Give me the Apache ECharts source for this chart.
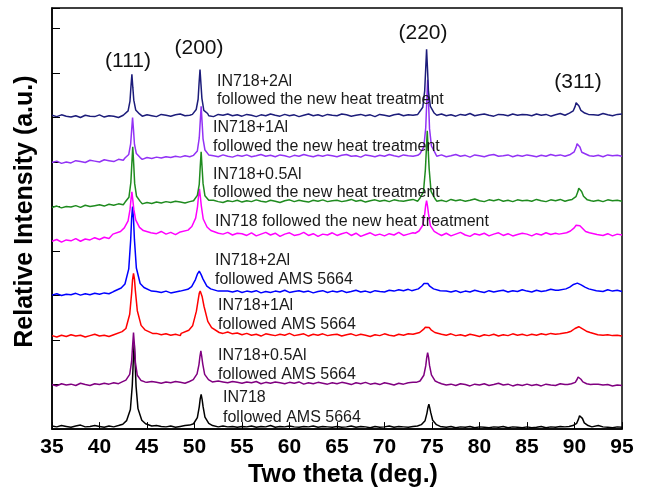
<!DOCTYPE html>
<html>
<head>
<meta charset="utf-8">
<script src="https://cdn.jsdelivr.net/npm/echarts@6/dist/echarts.min.js"></script>
<style>
  html, body { margin: 0; padding: 0; background: #fff; }
  #chart { width: 650px; height: 493px; }
</style>
</head>
<body>
<div id="chart"></div>
<script>
// Scan positions (2θ, degrees) of the baseline samples
const twoTheta = [
  35.0,35.5,36.0,36.5,37.0,37.5,38.0,38.5,39.0,39.5,
  40.0,40.5,41.0,41.5,42.0,42.5,43.0,43.5,44.0,44.5,
  45.0,45.5,46.0,46.5,47.0,47.5,48.0,48.5,49.0,49.5,
  50.0,50.5,51.0,51.5,52.0,52.5,53.0,53.5,54.0,54.5,
  55.0,55.5,56.0,56.5,57.0,57.5,58.0,58.5,59.0,59.5,
  60.0,60.5,61.0,61.5,62.0,62.5,63.0,63.5,64.0,64.5,
  65.0,65.5,66.0,66.5,67.0,67.5,68.0,68.5,69.0,69.5,
  70.0,70.5,71.0,71.5,72.0,72.5,73.0,73.5,74.0,74.5,
  75.0,75.5,76.0,76.5,77.0,77.5,78.0,78.5,79.0,79.5,
  80.0,80.5,81.0,81.5,82.0,82.5,83.0,83.5,84.0,84.5,
  85.0,85.5,86.0,86.5,87.0,87.5,88.0,88.5,89.0,89.5,
  90.0,90.5,91.0,91.5,92.0,92.5,93.0,93.5,94.0,94.5,
  95.0
];

// Stacked (offset) intensities, one baseline array per sample
const base_2Al_new = [
  7.05,7.02,7.06,7.03,7.01,7.04,7.00,7.05,7.03,7.02,
  7.06,7.01,7.04,7.03,7.00,7.05,7.04,7.05,7.07,7.03,
  7.06,7.04,7.02,7.07,7.05,7.03,7.06,7.08,7.04,7.05,
  7.07,7.03,7.06,7.04,7.02,7.07,7.05,7.08,7.04,7.06,
  7.03,7.07,7.05,7.02,7.06,7.04,7.08,7.05,7.03,7.07,
  7.04,7.06,7.02,7.05,7.08,7.04,7.06,7.03,7.07,7.05,
  7.04,7.08,7.06,7.03,7.05,7.07,7.04,7.06,7.02,7.07,
  7.05,7.03,7.06,7.08,7.04,7.06,7.05,7.07,7.06,7.05,
  7.07,7.05,7.08,7.04,7.06,7.03,7.07,7.05,7.09,7.04,
  7.06,7.08,7.05,7.03,7.07,7.06,7.04,7.08,7.05,7.07,
  7.06,7.04,7.08,7.05,7.07,7.03,7.06,7.09,7.05,7.07,
  7.08,7.06,7.04,7.08,7.06,7.05,7.09,7.06,7.04,7.07,
  7.08
];
const base_1Al_new = [
  5.99,6.02,5.97,6.00,5.98,6.03,6.01,5.99,6.04,6.02,
  6.00,6.05,6.03,6.01,6.06,6.04,6.07,6.05,6.08,6.06,
  6.10,6.08,6.11,6.09,6.12,6.10,6.13,6.11,6.14,6.12,
  6.10,6.13,6.15,6.11,6.14,6.12,6.16,6.13,6.11,6.15,
  6.13,6.16,6.12,6.14,6.17,6.13,6.15,6.12,6.16,6.14,
  6.11,6.15,6.13,6.17,6.14,6.12,6.15,6.13,6.16,6.14,
  6.12,6.15,6.17,6.13,6.14,6.11,6.16,6.14,6.12,6.15,
  6.13,6.17,6.14,6.12,6.16,6.14,6.13,6.15,6.17,6.14,
  6.15,6.13,6.16,6.12,6.14,6.17,6.13,6.15,6.11,6.16,
  6.14,6.12,6.15,6.17,6.13,6.14,6.16,6.12,6.15,6.13,
  6.16,6.14,6.12,6.15,6.13,6.17,6.14,6.16,6.13,6.15,
  6.12,6.16,6.14,6.17,6.13,6.15,6.12,6.16,6.14,6.15,
  6.13
];
const base_05Al_new = [
  4.98,5.01,4.97,5.00,4.99,5.02,4.98,5.03,5.00,5.02,
  5.04,5.01,5.05,5.03,5.06,5.04,5.07,5.05,5.08,5.06,
  5.09,5.07,5.10,5.08,5.11,5.09,5.12,5.10,5.08,5.11,
  5.13,5.09,5.12,5.10,5.14,5.11,5.09,5.13,5.11,5.14,
  5.10,5.13,5.11,5.15,5.12,5.10,5.14,5.12,5.09,5.13,
  5.15,5.11,5.14,5.12,5.10,5.14,5.12,5.15,5.11,5.13,
  5.14,5.11,5.13,5.16,5.12,5.14,5.10,5.13,5.15,5.12,
  5.14,5.11,5.15,5.13,5.12,5.14,5.16,5.12,5.14,5.13,
  5.15,5.12,5.14,5.11,5.16,5.13,5.15,5.12,5.14,5.17,
  5.13,5.11,5.15,5.13,5.16,5.12,5.14,5.11,5.15,5.13,
  5.14,5.12,5.16,5.13,5.11,5.15,5.13,5.16,5.12,5.14,
  5.12,5.15,5.13,5.16,5.12,5.14,5.11,5.15,5.13,5.14,
  5.12
];
const base_IN718_new = [
  4.22,4.26,4.20,4.25,4.23,4.28,4.22,4.27,4.25,4.30,
  4.26,4.31,4.28,4.33,4.35,4.33,4.38,4.42,4.47,4.45,
  4.45,4.41,4.39,4.44,4.38,4.42,4.37,4.43,4.40,4.46,
  4.52,4.55,4.60,4.55,4.48,4.43,4.38,4.42,4.36,4.40,
  4.39,4.35,4.41,4.34,4.38,4.42,4.36,4.40,4.33,4.38,
  4.41,4.35,4.37,4.42,4.35,4.39,4.33,4.38,4.36,4.41,
  4.35,4.39,4.42,4.35,4.40,4.33,4.37,4.41,4.35,4.38,
  4.34,4.39,4.36,4.42,4.35,4.38,4.41,4.37,4.40,4.39,
  4.42,4.38,4.35,4.40,4.34,4.38,4.42,4.36,4.33,4.39,
  4.36,4.40,4.34,4.38,4.41,4.35,4.39,4.34,4.37,4.40,
  4.38,4.34,4.39,4.36,4.41,4.37,4.40,4.38,4.43,4.46,
  4.50,4.55,4.60,4.50,4.45,4.40,4.35,4.39,4.34,4.38,
  4.36
];
const base_2Al_ams = [
  3.01,3.04,3.00,3.03,3.02,3.05,3.01,3.04,3.02,3.05,
  3.03,3.06,3.04,3.07,3.06,3.09,3.12,3.16,3.22,3.30,
  3.18,3.12,3.09,3.07,3.10,3.06,3.08,3.06,3.09,3.11,
  3.15,3.20,3.30,3.40,3.30,3.20,3.10,3.10,3.08,3.11,
  3.07,3.10,3.08,3.11,3.06,3.09,3.07,3.10,3.08,3.12,
  3.07,3.09,3.11,3.08,3.10,3.06,3.09,3.11,3.07,3.10,
  3.08,3.11,3.07,3.09,3.12,3.08,3.10,3.07,3.11,3.09,
  3.08,3.12,3.10,3.13,3.11,3.14,3.18,3.22,3.28,3.30,
  3.20,3.16,3.12,3.10,3.08,3.11,3.07,3.10,3.08,3.12,
  3.09,3.07,3.11,3.08,3.10,3.12,3.08,3.11,3.09,3.13,
  3.10,3.08,3.12,3.09,3.11,3.14,3.12,3.15,3.18,3.22,
  3.26,3.28,3.30,3.28,3.24,3.12,3.09,3.13,3.10,3.12,
  3.09
];
const base_1Al_ams = [
  2.10,2.07,2.11,2.08,2.12,2.09,2.11,2.07,2.10,2.13,
  2.09,2.11,2.08,2.12,2.10,2.13,2.15,2.18,2.25,2.40,
  2.30,2.20,2.15,2.12,2.14,2.11,2.13,2.10,2.14,2.18,
  2.30,2.50,2.80,2.90,2.60,2.40,2.15,2.18,2.14,2.16,
  2.12,2.15,2.11,2.13,2.09,2.14,2.12,2.10,2.13,2.11,
  2.15,2.10,2.12,2.14,2.09,2.13,2.11,2.14,2.10,2.12,
  2.13,2.09,2.12,2.14,2.10,2.13,2.11,2.08,2.12,2.10,
  2.14,2.11,2.09,2.13,2.11,2.14,2.12,2.16,2.19,2.24,
  2.22,2.17,2.13,2.11,2.14,2.10,2.12,2.09,2.13,2.11,
  2.08,2.12,2.10,2.13,2.09,2.12,2.10,2.14,2.11,2.13,
  2.10,2.13,2.11,2.14,2.12,2.15,2.13,2.16,2.19,2.22,
  2.26,2.29,2.30,2.27,2.23,2.13,2.11,2.12,2.10,2.11,
  2.09
];
const base_05Al_ams = [
  1.00,0.97,1.02,0.99,1.01,0.98,1.03,1.00,0.98,1.02,
  1.00,1.03,1.01,1.04,1.02,1.05,1.04,1.07,1.10,1.20,
  1.05,1.07,1.05,1.03,1.06,1.04,1.07,1.05,1.03,1.08,
  1.15,1.30,1.60,1.40,1.06,1.08,1.06,1.04,1.07,1.05,
  1.03,1.06,1.04,1.07,1.02,1.05,1.03,1.06,1.04,1.02,
  1.05,1.03,1.06,1.01,1.04,1.02,1.05,1.03,1.01,1.04,
  1.02,1.05,1.03,1.00,1.04,1.02,1.05,1.01,1.03,1.00,
  1.04,1.02,0.99,1.03,1.01,1.04,1.05,1.08,1.12,1.30,
  1.15,1.06,1.02,0.99,1.01,0.98,1.02,1.00,0.97,1.01,
  0.99,1.02,0.98,1.00,1.03,0.99,1.01,0.97,1.00,0.98,
  1.01,0.98,1.00,0.97,1.01,0.99,0.98,1.02,1.00,1.03,
  1.05,1.10,1.15,1.10,1.01,1.01,0.99,1.00,0.97,0.99,
  0.98
];
const base_IN718_ams = [
  0.07,0.05,0.08,0.06,0.04,0.07,0.09,0.05,0.06,0.08,
  0.06,0.04,0.07,0.05,0.08,0.06,0.09,0.12,0.20,0.40,
  0.09,0.07,0.08,0.06,0.05,0.07,0.04,0.06,0.08,0.05,
  0.10,0.20,0.40,0.60,0.06,0.05,0.07,0.05,0.06,0.04,
  0.06,0.05,0.07,0.04,0.06,0.05,0.08,0.04,0.06,0.05,
  0.07,0.05,0.04,0.06,0.05,0.07,0.04,0.06,0.05,0.04,
  0.06,0.04,0.05,0.07,0.04,0.06,0.05,0.03,0.06,0.04,
  0.05,0.07,0.04,0.06,0.05,0.04,0.06,0.08,0.12,0.30,
  0.20,0.08,0.05,0.04,0.06,0.03,0.05,0.04,0.06,0.03,
  0.05,0.04,0.03,0.05,0.04,0.06,0.03,0.05,0.04,0.03,
  0.05,0.03,0.04,0.06,0.03,0.05,0.04,0.06,0.05,0.08,
  0.12,0.20,0.30,0.20,0.05,0.08,0.05,0.04,0.03,0.05,
  0.04
];

// Reflection profiles, finer sampling across (111), (200), (220), (311)
const peaks_2Al_new = [
  [[42.61,7.06],[43.01,7.15],[43.21,7.37],[43.31,7.69],[43.41,7.97],[43.51,7.67],[43.61,7.39],[43.81,7.17],[44.21,7.08]],
  [[49.78,7.07],[50.18,7.18],[50.38,7.41],[50.48,7.77],[50.58,8.08],[50.68,7.75],[50.78,7.43],[50.98,7.16],[51.38,7.09]],
  [[73.63,7.09],[74.03,7.23],[74.23,7.60],[74.33,8.06],[74.43,8.53],[74.53,8.08],[74.63,7.58],[74.83,7.25],[75.23,7.10]],
  [[89.07,7.08],[89.47,7.10],[89.87,7.15],[90.07,7.25],[90.17,7.33],[90.27,7.37],[90.37,7.32],[90.47,7.26],[90.67,7.16],[91.07,7.10],[91.47,7.07]]
];
const peaks_1Al_new = [
  [[42.68,6.09],[43.08,6.17],[43.28,6.41],[43.38,6.70],[43.48,7.00],[43.58,6.72],[43.68,6.40],[43.88,6.19],[44.28,6.10]],
  [[49.90,6.15],[50.30,6.25],[50.50,6.54],[50.60,6.90],[50.70,7.25],[50.80,6.89],[50.90,6.52],[51.10,6.27],[51.50,6.16]],
  [[73.74,6.19],[74.14,6.34],[74.34,6.77],[74.44,7.31],[74.54,7.85],[74.64,7.33],[74.74,6.75],[74.94,6.36],[75.34,6.20]],
  [[89.17,6.15],[89.57,6.17],[89.97,6.23],[90.17,6.33],[90.27,6.41],[90.37,6.45],[90.47,6.40],[90.57,6.34],[90.77,6.22],[91.17,6.18],[91.57,6.14]]
];
const peaks_05Al_new = [
  [[42.70,5.10],[43.10,5.21],[43.30,5.54],[43.40,5.95],[43.50,6.34],[43.60,5.96],[43.70,5.52],[43.90,5.23],[44.30,5.11]],
  [[49.90,5.13],[50.30,5.25],[50.50,5.50],[50.60,5.88],[50.70,6.23],[50.80,5.87],[50.90,5.52],[51.10,5.24],[51.50,5.14]],
  [[73.70,5.18],[74.10,5.33],[74.30,5.82],[74.40,6.25],[74.50,6.70],[74.60,6.27],[74.70,5.85],[74.90,5.34],[75.30,5.18]],
  [[89.35,5.14],[89.75,5.16],[90.15,5.22],[90.35,5.33],[90.45,5.41],[90.55,5.45],[90.65,5.40],[90.75,5.34],[90.95,5.23],[91.35,5.15],[91.75,5.13]]
];
const peaks_IN718_new = [
  [[41.41,4.38],[42.21,4.44],[42.61,4.52],[43.01,4.68],[43.21,4.93],[43.31,5.15],[43.41,5.33],[43.51,5.14],[43.61,4.94],[43.81,4.70],[44.21,4.53],[44.61,4.46],[45.41,4.41]],
  [[48.52,4.41],[49.32,4.47],[49.72,4.55],[50.12,4.74],[50.32,5.00],[50.42,5.23],[50.52,5.40],[50.62,5.21],[50.72,5.01],[50.92,4.72],[51.32,4.54],[51.72,4.46],[52.52,4.40]],
  [[73.23,4.40],[73.63,4.45],[74.03,4.58],[74.23,4.83],[74.33,5.02],[74.43,5.13],[74.53,5.01],[74.63,4.84],[74.83,4.57],[75.23,4.44],[75.63,4.39]],
  [[88.37,4.38],[89.17,4.41],[89.57,4.45],[89.97,4.52],[90.17,4.58],[90.37,4.62],[90.57,4.57],[90.77,4.53],[91.17,4.44],[91.57,4.41],[92.37,4.37]]
];
const peaks_2Al_ams = [
  [[41.48,3.09],[42.28,3.17],[42.68,3.26],[43.08,3.60],[43.28,4.24],[43.38,4.73],[43.48,5.00],[43.58,4.72],[43.68,4.25],[43.88,3.62],[44.28,3.27],[44.68,3.18],[45.48,3.10]],
  [[48.50,3.10],[49.30,3.14],[49.70,3.20],[50.10,3.36],[50.30,3.48],[50.50,3.55],[50.70,3.47],[50.90,3.37],[51.30,3.21],[51.70,3.15],[52.50,3.10]],
  [[72.86,3.11],[73.56,3.15],[73.96,3.22],[74.16,3.27],[74.36,3.30],[74.56,3.27],[74.76,3.21],[75.16,3.15],[75.86,3.11]],
  [[88.30,3.12],[89.10,3.15],[89.50,3.19],[89.90,3.25],[90.10,3.27],[90.30,3.28],[90.50,3.27],[90.70,3.24],[91.10,3.19],[91.50,3.15],[92.30,3.11]]
];
const peaks_1Al_ams = [
  [[41.58,2.14],[42.38,2.19],[42.78,2.26],[43.18,2.58],[43.38,3.05],[43.48,3.36],[43.58,3.50],[43.68,3.37],[43.78,3.10],[43.98,2.66],[44.38,2.33],[44.78,2.23],[45.58,2.15]],
  [[48.60,2.15],[49.40,2.22],[49.80,2.32],[50.20,2.65],[50.40,2.92],[50.50,3.05],[50.60,3.10],[50.70,3.06],[50.80,2.98],[51.00,2.76],[51.40,2.42],[51.80,2.28],[52.60,2.17]],
  [[73.00,2.13],[73.70,2.17],[74.10,2.24],[74.30,2.29],[74.50,2.32],[74.70,2.28],[74.90,2.23],[75.30,2.17],[76.00,2.13]],
  [[88.45,2.14],[89.25,2.17],[89.65,2.20],[90.05,2.26],[90.25,2.28],[90.45,2.30],[90.65,2.28],[90.85,2.25],[91.25,2.20],[91.65,2.17],[92.45,2.12]]
];
const peaks_05Al_ams = [
  [[42.38,1.06],[42.78,1.10],[43.18,1.23],[43.38,1.52],[43.48,1.86],[43.58,2.17],[43.68,1.88],[43.78,1.50],[43.98,1.21],[44.38,1.09],[44.78,1.06]],
  [[49.47,1.07],[49.87,1.11],[50.27,1.24],[50.47,1.45],[50.57,1.63],[50.67,1.76],[50.77,1.62],[50.87,1.46],[51.07,1.23],[51.47,1.11],[51.87,1.06]],
  [[73.34,1.05],[73.74,1.08],[74.14,1.21],[74.34,1.42],[74.44,1.60],[74.54,1.72],[74.64,1.61],[74.74,1.43],[74.94,1.22],[75.34,1.08],[75.74,1.04]],
  [[89.28,1.00],[89.68,1.02],[90.08,1.05],[90.28,1.12],[90.38,1.17],[90.48,1.20],[90.58,1.17],[90.68,1.12],[90.88,1.06],[91.28,1.02],[91.68,1.00]]
];
const peaks_IN718_ams = [
  [[42.45,0.11],[42.85,0.19],[43.25,0.44],[43.45,0.98],[43.55,1.50],[43.65,1.94],[43.75,1.48],[43.85,0.96],[44.05,0.46],[44.45,0.20],[44.85,0.12]],
  [[49.50,0.09],[49.90,0.12],[50.30,0.26],[50.50,0.50],[50.60,0.68],[50.70,0.78],[50.80,0.67],[50.90,0.51],[51.10,0.27],[51.50,0.13],[51.90,0.08]],
  [[73.47,0.07],[73.87,0.10],[74.27,0.19],[74.47,0.36],[74.57,0.48],[74.67,0.56],[74.77,0.47],[74.87,0.37],[75.07,0.20],[75.47,0.10],[75.87,0.06]],
  [[89.43,0.06],[89.83,0.08],[90.23,0.13],[90.43,0.23],[90.53,0.30],[90.63,0.34],[90.73,0.30],[90.83,0.24],[91.03,0.14],[91.43,0.08],[91.83,0.05]]
];

// Axis ticks and text
const xTicks = [35, 40, 45, 50, 55, 60, 65, 70, 75, 80, 85, 90, 95];
const peakLabels = ['(111)', '(200)', '(220)', '(311)'];
const sampleLabels = [
  ['IN718+2Al', 'followed the new heat treatment'],
  ['IN718+1Al', 'followed the new heat treatment'],
  ['IN718+0.5Al', 'followed the new heat treatment'],
  ['IN718 followed the new heat treatment'],
  ['IN718+2Al', 'followed AMS 5664'],
  ['IN718+1Al', 'followed AMS 5664'],
  ['IN718+0.5Al', 'followed AMS 5664'],
  ['IN718', 'followed AMS 5664']
];

// Merge a baseline with its peak profiles (peak samples replace the coarse ones they span)
function buildTrace(base, peaks) {
  const pts = [];
  for (let i = 0; i < twoTheta.length && i < base.length; i++) {
    const x = twoTheta[i];
    const covered = peaks.some(p => x >= p[0][0] && x <= p[p.length - 1][0]);
    if (!covered) pts.push([x, base[i]]);
  }
  peaks.forEach(p => p.forEach(pt => pts.push(pt)));
  pts.sort((a, b) => a[0] - b[0]);
  return pts;
}

const traces = [
  { base: base_IN718_ams, peaks: peaks_IN718_ams, color: '#000000' },
  { base: base_05Al_ams, peaks: peaks_05Al_ams, color: '#800080' },
  { base: base_1Al_ams, peaks: peaks_1Al_ams, color: '#ff0000' },
  { base: base_2Al_ams, peaks: peaks_2Al_ams, color: '#0000ff' },
  { base: base_IN718_new, peaks: peaks_IN718_new, color: '#ff00ff' },
  { base: base_05Al_new, peaks: peaks_05Al_new, color: '#1f8b1f' },
  { base: base_1Al_new, peaks: peaks_1Al_new, color: '#9232f5' },
  { base: base_2Al_new, peaks: peaks_2Al_new, color: '#1c1c7a' }
];

const chart = echarts.init(document.getElementById('chart'), null, { renderer: 'canvas' });

const FONT = '"Liberation Sans", Arial, Helvetica, sans-serif';

// Annotation placement (pixels)
const peakLabelPos = [[128, 61], [199, 48], [423, 33], [578, 82]];
const sampleLabelPos = [
  [217, 82, 100], [213, 128, 147], [213, 175, 193], [215, 222],
  [215, 261, 280], [218, 306, 325], [218, 356, 375], [223, 398, 418]
];

const graphics = [];
peakLabels.forEach((t, i) => {
  graphics.push({
    type: 'text', x: peakLabelPos[i][0], y: peakLabelPos[i][1], z: 100,
    style: { text: t, font: '21px ' + FONT, fill: '#111', align: 'center', verticalAlign: 'middle' }
  });
});
sampleLabels.forEach((lines, i) => {
  const p = sampleLabelPos[i];
  lines.forEach((t, k) => {
    graphics.push({
      type: 'text', x: p[0], y: p[1 + k], z: 100,
      style: { text: t, font: '16px ' + FONT, fill: '#1a1a1a', align: 'left', verticalAlign: 'middle' }
    });
  });
});

chart.setOption({
  animation: false,
  backgroundColor: '#ffffff',
  grid: {
    left: 52, right: 28, top: 8, bottom: 61,
    show: true, borderColor: '#000', borderWidth: 1.5, backgroundColor: 'transparent'
  },
  xAxis: {
    type: 'value', min: 35, max: 95, interval: 5,
    name: 'Two theta (deg.)', nameLocation: 'middle', nameGap: 31,
    nameTextStyle: { fontFamily: FONT, fontWeight: 'bold', fontSize: 25, color: '#000', padding: [0, 0, 0, 12] },
    axisLine: { show: true, onZero: false, lineStyle: { color: '#000', width: 1.5 } },
    axisTick: { show: true, inside: true, length: 7, lineStyle: { color: '#000', width: 1 } },
    axisLabel: {
      fontFamily: FONT, fontWeight: 'bold', fontSize: 21, color: '#000', margin: 8,
      formatter: v => (xTicks.indexOf(v) >= 0 ? String(v) : '')
    },
    splitLine: { show: false }
  },
  yAxis: {
    type: 'value', min: 0, max: 9.46, interval: 1,
    name: 'Relative Intensity (a.u.)', nameLocation: 'middle', nameGap: 14,
    nameTextStyle: { fontFamily: FONT, fontWeight: 'bold', fontSize: 25, color: '#000', padding: [0, 0, 0, 14] },
    axisLine: { show: true, lineStyle: { color: '#000', width: 1.5 } },
    axisTick: { show: true, inside: true, length: 8, lineStyle: { color: '#000', width: 1 } },
    axisLabel: { show: false },
    splitLine: { show: false }
  },
  graphic: graphics,
  series: traces.map(t => ({
    type: 'line',
    data: buildTrace(t.base, t.peaks),
    showSymbol: false,
    symbol: 'none',
    smooth: false,
    clip: true,
    lineStyle: { color: t.color, width: 1.5 },
    emphasis: { disabled: true }
  }))
});
</script>
</body>
</html>
